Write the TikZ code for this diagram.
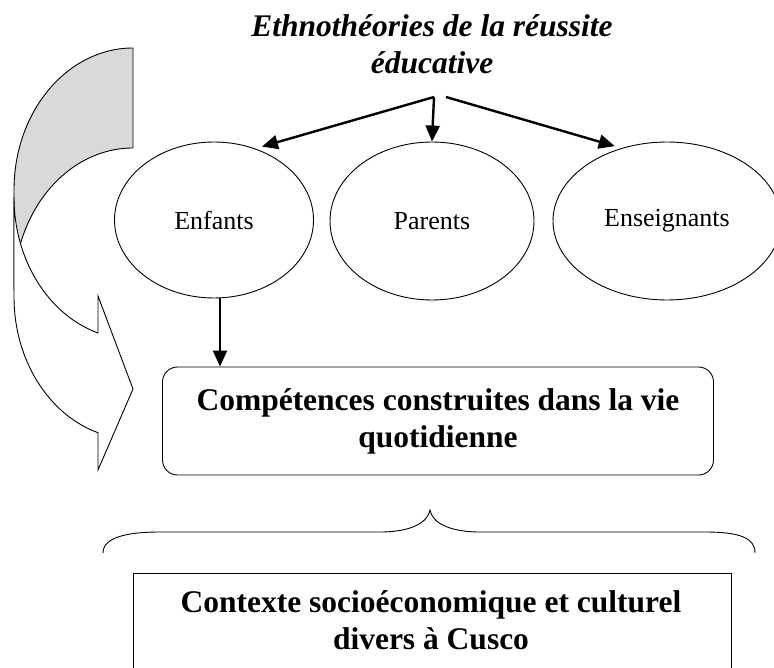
\documentclass[tikz,border=0pt]{standalone}
\usepackage{fontspec}
\setmainfont{Liberation Serif}
\usetikzlibrary{arrows.meta,shapes.geometric}

\begin{document}
\begin{tikzpicture}[x=1pt,y=-1pt,
	bubble/.style={draw,ellipse,line width=0.9pt,inner sep=0pt,font=\fontsize{26}{30}\selectfont},
	arr/.style={-{Triangle[length=16pt,width=14pt]},line width=2.4pt},
	heading/.style={align=center,inner sep=0pt,font=\fontsize{31.5}{37}\selectfont\bfseries}]
	\useasboundingbox (0,0) rectangle (774,668);
	
	% curved arrow on the left
	\draw[line width=0.9pt,fill=gray!30] (133,48) arc[start angle=90,end angle=180,x radius=119pt,y radius=142pt] -- (14,290) arc[start angle=180,end angle=90,x radius=119pt,y radius=142pt] -- cycle;
	\draw[line width=0.9pt,fill=white] (14,197) -- (14,297) arc[start angle=180,end angle=252.9,x radius=119pt,y radius=142pt] -- (98,470) -- (133,389) -- (98,296) -- (98,333) arc[start angle=252.9,end angle=180,x radius=119pt,y radius=142pt] -- cycle;
	
	\node[heading,font=\fontsize{31.5}{37}\selectfont\bfseries\itshape] (title) at (432,44) {Ethnothéories de la réussite\\éducative};
	\coordinate (fork) at (434,97);
	\coordinate (forkr) at (446,97);
	
	\node[bubble,minimum width=199pt,minimum height=156pt] (enf) at (214,220) {Enfants};
	\node[bubble,minimum width=204pt,minimum height=158pt] (par) at (432,221) {Parents};
	\node[bubble,minimum width=228pt,minimum height=158pt] (ens) at (667,221) {Enseignants};
	
	\draw[arr,shorten >=7pt] (fork) -- (enf.60);
	\draw[arr] (fork) -- (par.north);
	\draw[arr,shorten >=7pt] (forkr) -- (ens.122);
	
	\node[heading,draw,rounded corners=15pt,line width=0.9pt,minimum width=551pt,minimum height=108pt] (comp) at (438,421) {Compétences construites dans la vie\\quotidienne};
	\draw[arr] ([xshift=6pt]enf.south) -- ([xshift=6pt]enf.south |- comp.north);
	
	% brace
	\draw[line width=0.9pt] (103,553) .. controls (103,538) and (125,532) .. (160,532) -- (380,532) .. controls (412,532) and (428,522) .. (430,510) .. controls (432,522) and (448,532) .. (480,532) -- (705,532) .. controls (740,532) and (755,538) .. (755,553);
	
	\draw[line width=0.9pt] (133,700) |- (731,573) -- (731,700);
	\node[heading] (ctx) at (431,620) {Contexte socioéconomique et culturel\\divers à Cusco};
\end{tikzpicture}
\end{document}
